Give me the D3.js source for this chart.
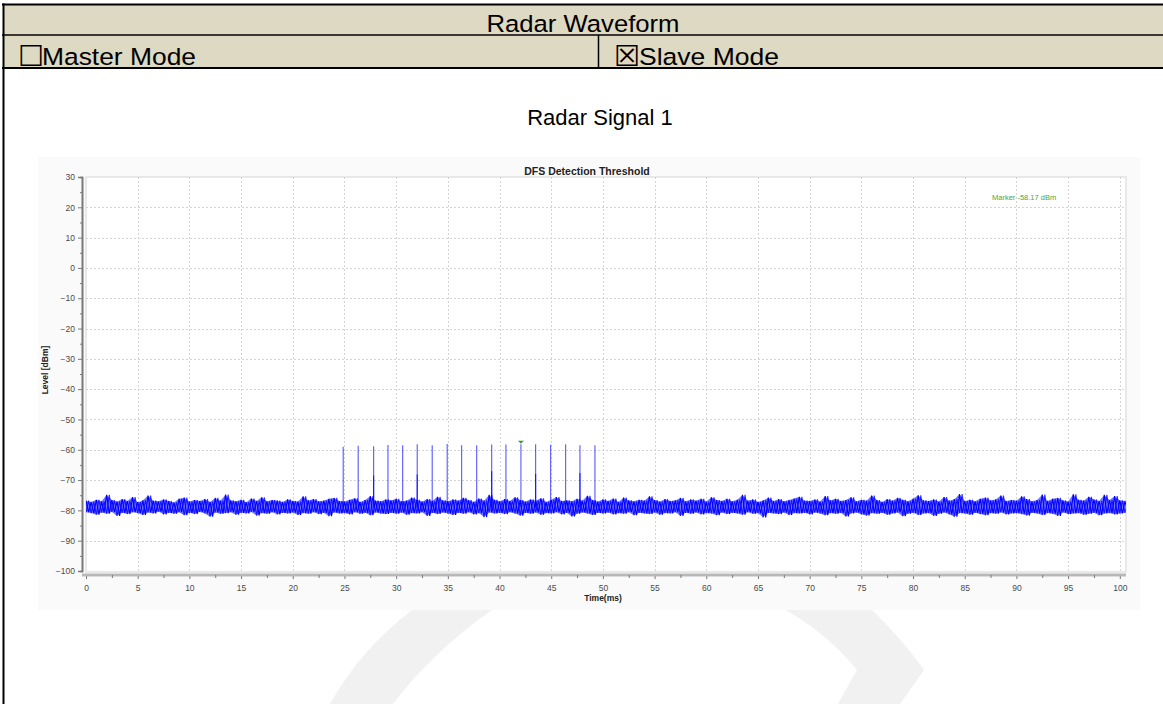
<!DOCTYPE html>
<html>
<head>
<meta charset="utf-8">
<script src="https://cdn.jsdelivr.net/npm/d3@7"></script>
<style>
  body { margin: 0; background: #fff; }
  svg { display: block; font-family: "Liberation Sans", Arial, sans-serif; }
</style>
</head>
<body>
<svg id="page" width="1163" height="704"></svg>
<script>
// ---- data ----
var headerTitle = "Radar Waveform";
var modeLabels = ["Master Mode", "Slave Mode"];
var modeChecked = [false, true];
var signalTitle = "Radar Signal 1";
var chartTitle = "DFS Detection Threshold";
var markerLabel = "Marker -58.17 dBm";

var xTicks = d3.range(0, 101, 5);          // ms
var yTicks = d3.range(-100, 31, 10);       // dBm

// radar pulses (ms, peak dBm, level of a second overlapping sample)
var pulseTimes = [24.88, 26.33, 27.82, 29.21, 30.63, 32.04, 33.49, 34.94, 36.33,
                  37.79, 39.24, 40.62, 42.07, 43.49, 44.94, 46.39, 47.78, 49.23];
var pulsePeaks = [-59.0, -58.7, -58.8, -58.4, -58.5, -58.2, -58.5, -58.1, -58.5,
                  -58.5, -58.3, -58.3, -58.17, -58.2, -58.3, -58.2, -58.5, -58.5];
var pulseSecond = [null, null, -68.5, null, null, -68.2, null, null, null,
                   null, -67.1, null, null, -68.0, null, null, -67.7, null];
var markerTime = 42.07, markerLevel = -58.17;

// noise floor envelope, one pair per 0.5 ms starting at 0 ms
var noiseHigh = [
  -76.8,-77.2,-76.5,-77.0,-74.9,-76.6,-77.1,-76.3,-76.9,-75.6,-77.3,-76.7,-75.1,-76.8,-77.0,-76.4,-76.9,-77.4,-76.2,-75.8,
  -77.1,-76.6,-76.9,-76.3,-77.2,-75.9,-76.8,-74.8,-76.7,-77.0,-76.5,-77.3,-76.1,-76.9,-75.7,-77.0,-76.6,-76.8,-77.2,-76.4,
  -76.9,-77.1,-75.4,-76.7,-76.3,-77.0,-76.8,-76.2,-75.9,-76.9,-77.1,-76.5,-76.0,-77.2,-76.6,-75.3,-76.8,-77.0,-76.4,-76.7,
  -76.2,-77.0,-76.8,-75.8,-76.5,-77.1,-76.3,-76.9,-75.5,-76.7,-77.0,-76.4,-76.8,-75.9,-76.6,-77.2,-76.1,-76.8,-74.9,-76.5,
  -77.0,-76.3,-76.9,-75.7,-76.6,-77.1,-76.4,-76.8,-76.0,-77.2,-76.5,-75.6,-76.9,-76.7,-77.0,-76.2,-76.8,-75.2,-76.6,-77.1,
  -76.4,-76.9,-76.1,-77.2,-75.8,-76.7,-77.0,-76.5,-76.8,-75.4,-76.6,-77.1,-76.3,-76.9,-76.7,-75.9,-77.0,-76.4,-76.8,-76.2,
  -77.1,-75.7,-76.6,-76.9,-76.2,-77.0,-76.5,-74.9,-76.8,-76.4,-77.2,-76.7,-75.8,-76.9,-76.3,-77.0,-76.6,-76.1,-75.5,-76.8,
  -76.9,-76.4,-77.1,-75.3,-76.7,-76.2,-76.9,-76.6,-75.7,-77.0,-76.5,-76.8,-75.1,-76.6,-77.2,-76.3,-76.8,-75.9,-76.5,-77.0,
  -76.2,-75.0,-76.7,-76.9,-76.4,-77.1,-75.6,-76.8,-76.3,-74.6,-76.9,-76.5,-77.0,-76.2,-75.8,-76.7,-76.4,-75.1,-76.9,-76.6,
  -76.8,-75.4,-76.3,-77.0,-76.6,-74.8,-76.9,-76.2,-75.9,-76.7,-77.1,-74.7,-76.5,-76.8,-75.5,-76.4,-76.9,-74.9,-76.6,-75.3,
  -76.7,-76.9
];
var noiseLow = [
  -80.6,-80.9,-81.4,-80.7,-81.1,-80.5,-81.8,-80.8,-81.2,-80.6,-80.9,-81.5,-80.7,-81.0,-80.4,-81.3,-80.8,-81.1,-80.6,-81.6,
  -80.8,-81.2,-80.5,-81.0,-82.1,-80.7,-81.1,-80.9,-80.6,-81.4,-80.8,-81.0,-80.5,-81.7,-80.9,-81.1,-80.6,-81.3,-80.8,-81.0,
  -80.7,-81.5,-80.9,-81.1,-80.6,-81.2,-80.8,-81.9,-80.7,-81.0,-80.9,-81.3,-80.6,-81.1,-80.8,-81.6,-80.7,-81.0,-81.2,-80.8,
  -81.1,-80.7,-81.4,-80.9,-81.0,-80.6,-81.8,-80.8,-81.2,-80.7,-81.0,-81.5,-80.8,-81.1,-80.6,-81.3,-80.9,-82.2,-80.7,-81.0,
  -80.8,-81.2,-80.6,-81.0,-81.7,-80.8,-81.1,-80.7,-81.4,-80.9,-81.0,-80.6,-81.3,-80.8,-82.0,-81.1,-80.7,-81.0,-81.5,-80.8,
  -81.0,-80.7,-81.3,-80.9,-81.1,-80.6,-81.6,-80.8,-81.0,-81.2,-80.7,-81.4,-80.9,-81.0,-80.6,-81.8,-80.8,-81.1,-80.7,-81.3,
  -80.9,-81.0,-81.6,-80.7,-81.2,-80.8,-81.0,-81.4,-80.6,-81.1,-80.9,-82.3,-80.8,-81.0,-81.2,-80.7,-81.5,-80.9,-81.0,-80.8,
  -81.3,-80.7,-81.0,-81.6,-80.9,-81.1,-80.8,-82.0,-81.0,-80.7,-81.3,-81.7,-80.9,-81.1,-80.8,-81.4,-81.0,-80.7,-81.9,-81.1,
  -80.8,-81.5,-81.0,-80.9,-81.8,-81.1,-80.7,-81.3,-82.1,-80.9,-81.0,-81.4,-80.8,-81.2,-81.6,-80.9,-81.1,-80.7,-81.3,-81.0,
  -80.9,-81.2,-81.7,-80.8,-81.0,-81.5,-80.9,-81.1,-81.8,-80.7,-81.2,-81.0,-80.9,-81.4,-81.1,-80.8,-81.6,-81.0,-80.9,-81.3,
  -81.0,-80.8
];
var noiseStep = 0.5;
var noiseBase = -79;   // where pulses leave the noise floor

// ---- page ----
var svg = d3.select("#page");
var W = 1163, H = 704;

// faint watermark behind everything
var wm = svg.append("g").attr("fill", "#f1f1f1");
wm.append("path").attr("d", "M412,610 L492,610 Q432,652 393,704 L330,704 Q360,650 412,610 Z");
wm.append("path").attr("d", "M786,610 L872,610 Q903,640 924,670 L900,704 L838,704 L857,670 Q830,636 786,610 Z");

// header table
var beige = "#ddd9c3";
svg.append("rect").attr("x", 3).attr("y", 4).attr("width", W - 3).attr("height", 64).attr("fill", beige);
var borders = svg.append("g").attr("stroke", "#000");
borders.append("line").attr("x1", 2).attr("x2", W).attr("y1", 4.5).attr("y2", 4.5).attr("stroke-width", 2);
borders.append("line").attr("x1", 2).attr("x2", W).attr("y1", 35).attr("y2", 35).attr("stroke-width", 1.5);
borders.append("line").attr("x1", 2).attr("x2", W).attr("y1", 68).attr("y2", 68).attr("stroke-width", 2);
borders.append("line").attr("x1", 3.5).attr("x2", 3.5).attr("y1", 3.5).attr("y2", H).attr("stroke-width", 2);
borders.append("line").attr("x1", 598.5).attr("x2", 598.5).attr("y1", 35).attr("y2", 68).attr("stroke-width", 1.5);

svg.append("text").attr("x", 583).attr("y", 31.5).attr("text-anchor", "middle")
  .attr("font-size", 24.5).attr("textLength", 193).attr("lengthAdjust", "spacingAndGlyphs")
  .attr("fill", "#000").text(headerTitle);

var boxX = [18, 614], labelX = [42, 639], labelW = [154, 140];
modeLabels.forEach(function (lab, i) {
  svg.append("text").attr("x", boxX[i]).attr("y", 65.5)
    .attr("font-family", "DejaVu Sans").attr("font-size", 29).attr("fill", "#000")
    .text(modeChecked[i] ? "\u2612" : "\u2610");
  svg.append("text").attr("x", labelX[i]).attr("y", 64.5)
    .attr("font-size", 24.5).attr("textLength", labelW[i]).attr("lengthAdjust", "spacingAndGlyphs")
    .attr("fill", "#000").text(lab);
});

svg.append("text").attr("x", 600).attr("y", 124.5).attr("text-anchor", "middle")
  .attr("font-size", 22).attr("fill", "#000").text(signalTitle);

// ---- chart picture ----
svg.append("rect").attr("x", 38).attr("y", 157).attr("width", 1102).attr("height", 453).attr("fill", "#fafafa");

var x = d3.scaleLinear().domain([0, 100.6]).range([86, 1126]);
var y = d3.scaleLinear().domain([-100, 30]).range([571, 177]);

var plot = { left: x(0), right: x(100.6), top: y(30), bottom: y(-100) + 1 };

svg.append("rect")
  .attr("x", plot.left).attr("y", plot.top)
  .attr("width", plot.right - plot.left).attr("height", plot.bottom - plot.top)
  .attr("fill", "#fff").attr("stroke", "#e2e2e2").attr("stroke-width", 1.5);

svg.append("defs").append("clipPath").attr("id", "clip")
  .append("rect").attr("x", plot.left).attr("y", plot.top)
  .attr("width", plot.right - plot.left).attr("height", plot.bottom - plot.top);

// grid
var grid = svg.append("g").attr("stroke", "#d4d4d4").attr("stroke-dasharray", "2,2").attr("stroke-width", 1);
grid.selectAll(".gx").data(xTicks.filter(function (d) { return d > 0; })).enter().append("line")
  .attr("x1", function (d) { return Math.round(x(d)) + 0.5; })
  .attr("x2", function (d) { return Math.round(x(d)) + 0.5; })
  .attr("y1", plot.top).attr("y2", plot.bottom);
grid.selectAll(".gy").data(yTicks.filter(function (d) { return d > -100 && d < 30; })).enter().append("line")
  .attr("y1", function (d) { return Math.round(y(d)) + 0.5; })
  .attr("y2", function (d) { return Math.round(y(d)) + 0.5; })
  .attr("x1", plot.left).attr("x2", plot.right);

// axes
var axisColor = "#7a7a7a", labelColor = "#4a4a4a";

var yAxis = svg.append("g").attr("transform", "translate(82,0)")
  .call(d3.axisLeft(y).tickValues(yTicks).tickSize(4).tickPadding(3));
yAxis.append("g").call(d3.axisLeft(y).tickValues(d3.range(-95, 30, 10)).tickSize(2).tickFormat(""));
yAxis.selectAll(".domain").attr("stroke", axisColor).attr("stroke-width", 1.6);
yAxis.selectAll("line").attr("stroke", axisColor);
yAxis.selectAll("text").attr("fill", labelColor).attr("font-size", 8.5)
  .attr("font-family", "Liberation Sans Narrow, Liberation Sans, Arial");

var xAxis = svg.append("g").attr("transform", "translate(0,575)")
  .call(d3.axisBottom(x).tickValues(xTicks).tickSize(4).tickPadding(6));
xAxis.append("g").call(d3.axisBottom(x).tickValues(d3.range(2.5, 100, 5)).tickSize(3).tickFormat(""));
xAxis.selectAll(".domain").attr("stroke", "#b8b8b8").attr("stroke-width", 2.5);
xAxis.selectAll("line").attr("stroke", axisColor);
xAxis.selectAll("text").attr("fill", labelColor).attr("font-size", 8.5)
  .attr("font-family", "Liberation Sans Narrow, Liberation Sans, Arial");
xAxis.selectAll(".domain").attr("d", "M" + (82) + ",0H" + plot.right);

// titles
svg.append("text").attr("x", 587).attr("y", 174.5).attr("text-anchor", "middle")
  .attr("font-size", 10.5).attr("font-weight", "bold").attr("fill", "#222").text(chartTitle);
svg.append("text").attr("transform", "translate(48,370) rotate(-90)").attr("text-anchor", "middle")
  .attr("font-size", 8.5).attr("font-weight", "bold").attr("fill", "#222").text("Level [dBm]");
svg.append("text").attr("x", 603).attr("y", 601).attr("text-anchor", "middle")
  .attr("font-size", 8.5).attr("font-weight", "bold").attr("fill", "#222").text("Time(ms)");
svg.append("text").attr("x", 992).attr("y", 199.5)
  .attr("font-size", 7.5).attr("fill", "#45a845").text(markerLabel);

// ---- traces ----
var traces = svg.append("g").attr("clip-path", "url(#clip)");

function zigzag(a, b) {
  var pts = [];
  a.forEach(function (v, i) {
    pts.push([i * noiseStep, v]);
    pts.push([i * noiseStep + noiseStep / 2, b[i]]);
  });
  return pts;
}
var line = d3.line().x(function (d) { return x(d[0]); }).y(function (d) { return y(d[1]); });
var band = d3.area()
  .x(function (d, i) { return x(i * noiseStep); })
  .y0(function (d, i) { return y(noiseLow[i]); })
  .y1(function (d) { return y(d); });

traces.append("path").attr("d", band(noiseHigh))
  .attr("fill", "#0000ff").attr("opacity", 0.55);
traces.append("path").attr("d", line(zigzag(noiseHigh, noiseLow)))
  .attr("fill", "none").attr("stroke", "#0000ff").attr("stroke-width", 1.1);
traces.append("path").attr("d", line(zigzag(noiseLow, noiseHigh)))
  .attr("fill", "none").attr("stroke", "#0000ff").attr("stroke-width", 1.1).attr("opacity", 0.8);

var pulses = traces.append("g").attr("stroke", "#0000ff").attr("stroke-width", 1.2);
pulseTimes.forEach(function (t, i) {
  pulses.append("line").attr("x1", x(t)).attr("x2", x(t))
    .attr("y1", y(noiseBase)).attr("y2", y(pulsePeaks[i])).attr("opacity", 0.6);
  if (pulseSecond[i] !== null) {
    pulses.append("line").attr("x1", x(t)).attr("x2", x(t))
      .attr("y1", y(noiseBase)).attr("y2", y(pulseSecond[i])).attr("opacity", 0.75);
  }
});

// marker
var mx = x(markerTime), my = y(markerLevel);
svg.append("path")
  .attr("d", "M" + (mx - 3) + "," + (my - 3.5) + "L" + (mx + 3) + "," + (my - 3.5) + "L" + mx + "," + (my - 0.5) + "Z")
  .attr("fill", "#3a9a3a");
</script>
</body>
</html>
